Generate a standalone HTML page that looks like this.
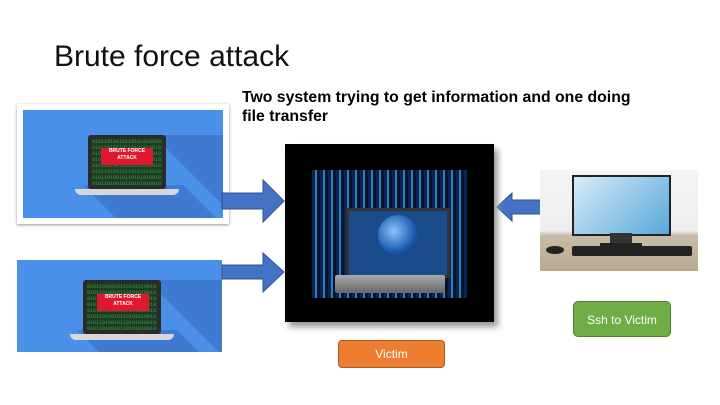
<!DOCTYPE html>
<html><head><style>
body{margin:0;width:720px;height:405px;background:#fff;position:relative;overflow:hidden;font-family:"Liberation Sans",sans-serif}
.a{position:absolute}
.lap{position:absolute;background:#2b2b2b;border-radius:3px}
.scr{position:absolute;background:#1d3a22;color:#3c9a4a;font-size:5px;line-height:6px;overflow:hidden;font-family:"Liberation Mono",monospace}
.red{position:absolute;background:#e0182d;color:#fff;font-size:5px;font-weight:bold;text-align:center;line-height:7px}
.base{position:absolute;background:#d8d8d8;border-radius:0 0 6px 6px}
</style></head><body>
<div class="a" style="left:54px;top:40px;font-size:30px;color:#111">Brute force attack</div>
<div class="a" style="left:242px;top:88px;font-size:15.8px;font-weight:bold;line-height:19px;color:#000">Two system trying to get information and one doing<br>file transfer</div>

<!-- top-left image -->
<div class="a" style="left:17px;top:104px;width:212px;height:120px;background:#fff;box-shadow:0 1px 3px #999"></div>
<div class="a" style="left:23px;top:110px;width:200px;height:108px;background:#4a8fe8;overflow:hidden">
 <div class="a" style="left:130px;top:25px;width:80px;height:110px;background:#3e7ad0;transform:skewX(45deg);transform-origin:top left"></div>
 <div class="a" style="left:60px;top:75px;width:100px;height:40px;background:#3e7ad0;transform:skewX(45deg);transform-origin:top left"></div>
 <div class="lap" style="left:65px;top:25px;width:78px;height:54px"></div>
 <div class="scr" style="left:69px;top:29px;width:70px;height:46px">0101101001011010101001010110100101101010010<br>0101101001011010101001010110100101101010010<br>0101101001011010101001010110100101101010010<br>0101101001011010101001010110100101101010010<br>0101101001011010101001010110100101101010010<br>0101101001011010101001010110100101101010010<br>0101101001011010101001010110100101101010010<br>0101101001011010101001010110100101101010010</div>
 <div class="red" style="left:78px;top:38px;width:52px;height:17px">BRUTE FORCE<br>ATTACK</div>
 <div class="base" style="left:52px;top:79px;width:104px;height:6px"></div>
</div>

<!-- bottom-left image -->
<div class="a" style="left:17px;top:260px;width:205px;height:92px;background:#4a8fe8;overflow:hidden">
 <div class="a" style="left:130px;top:20px;width:80px;height:110px;background:#3e7ad0;transform:skewX(45deg);transform-origin:top left"></div>
 <div class="a" style="left:60px;top:70px;width:100px;height:40px;background:#3e7ad0;transform:skewX(45deg);transform-origin:top left"></div>
 <div class="lap" style="left:66px;top:20px;width:78px;height:54px"></div>
 <div class="scr" style="left:70px;top:24px;width:70px;height:46px">0101101001011010101001010110100101101010010<br>0101101001011010101001010110100101101010010<br>0101101001011010101001010110100101101010010<br>0101101001011010101001010110100101101010010<br>0101101001011010101001010110100101101010010<br>0101101001011010101001010110100101101010010<br>0101101001011010101001010110100101101010010<br>0101101001011010101001010110100101101010010</div>
 <div class="red" style="left:80px;top:34px;width:52px;height:17px">BRUTE FORCE<br>ATTACK</div>
 <div class="base" style="left:53px;top:74px;width:104px;height:6px"></div>
</div>

<!-- arrows -->
<svg class="a" style="left:0;top:0" width="720" height="405">
 <polygon points="222,193 263,193 263,180 284,201 263,222 263,209 222,209" fill="#4472c4" stroke="#2f528f" stroke-width="1"/>
 <polygon points="222,265 263,265 263,253 284,272 263,292 263,279 222,279" fill="#4472c4" stroke="#2f528f" stroke-width="1"/>
 <polygon points="541,200 512,200 512,193 497,207 512,221 512,214 541,214" fill="#4472c4" stroke="#2f528f" stroke-width="1"/>
</svg>

<!-- victim image -->
<div class="a" style="left:285px;top:144px;width:209px;height:178px;background:#000;box-shadow:4px 5px 6px #999"></div>
<div class="a" style="left:312px;top:170px;width:155px;height:128px;background:repeating-linear-gradient(90deg,#0a2a5a 0 3px,#3a8ad8 3px 5px,#061630 5px 8px);opacity:.9"></div>
<div class="a" style="left:346px;top:208px;width:98px;height:64px;background:#1a4c8c;border:3px solid #333"></div>
<div class="a" style="left:378px;top:215px;width:40px;height:40px;border-radius:50%;background:radial-gradient(circle at 40% 40%,#8cc4ff,#1a5ab0 60%,#0a2a60)"></div>
<div class="a" style="left:335px;top:275px;width:110px;height:18px;background:linear-gradient(#aaa,#666);border-radius:2px"></div>

<!-- right computer -->
<div class="a" style="left:540px;top:170px;width:158px;height:101px;background:linear-gradient(#f4f4f4 0,#eee 60%,#c9bca8 65%,#b8a98f 100%)"></div>
<div class="a" style="left:572px;top:175px;width:95px;height:57px;background:linear-gradient(135deg,#d8ecf8,#5aa8dc);border:2px solid #222"></div>
<div class="a" style="left:610px;top:233px;width:22px;height:10px;background:#333"></div>
<div class="a" style="left:600px;top:243px;width:42px;height:4px;background:#222"></div>
<div class="a" style="left:572px;top:246px;width:120px;height:10px;background:#222;border-radius:2px"></div>
<div class="a" style="left:546px;top:246px;width:18px;height:8px;background:#222;border-radius:50%"></div>

<div class="a" style="left:573px;top:301px;width:98px;height:36px;background:#70ad47;border:1px solid #507e32;border-radius:5px;color:#fff;font-size:12px;text-align:center;line-height:36px;box-sizing:border-box">Ssh to Victim</div>
<div class="a" style="left:338px;top:340px;width:107px;height:28px;background:#ed7d31;border:1px solid #ae5a21;border-radius:4px;color:#fff;font-size:12px;text-align:center;line-height:27px;box-sizing:border-box">Victim</div>
</body></html>
